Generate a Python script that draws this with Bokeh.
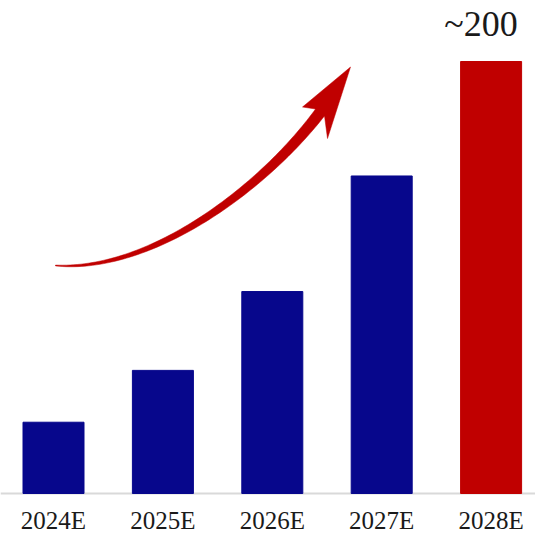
import numpy as np
from bokeh.plotting import figure
from bokeh.models import ColumnDataSource, Range1d, Span
from bokeh.core.properties import value
from bokeh.embed import file_html
from bokeh.resources import INLINE

# ---- data ----
categories = ["2024E", "2025E", "2026E", "2027E", "2028E"]
values = [33, 57, 93.5, 147, 200]
bar_colors = ["#07078C", "#07078C", "#07078C", "#07078C", "#C00000"]
top_label = "~200"

# ---- layout constants (pixel mapping) ----
W, H = 535, 534
PX_PER_X = 109.4          # pixels per category step
PX_PER_Y = 2.16           # pixels per value unit
X0_PIX = 53               # frame-left to first category center
BASE_PIX = 493            # frame-top to baseline

x_start = -X0_PIX / PX_PER_X
x_end = (W - X0_PIX) / PX_PER_X
y_end = BASE_PIX / PX_PER_Y
y_start = -(H - BASE_PIX) / PX_PER_Y

p = figure(width=W, height=H, output_backend="svg", toolbar_location=None,
           x_axis_type=None, y_axis_type=None,
           x_range=Range1d(x_start, x_end), y_range=Range1d(y_start, y_end),
           min_border=0, outline_line_color=None)
p.grid.visible = False
p.background_fill_color = "white"
p.border_fill_color = "white"

xs = list(range(len(categories)))
src = ColumnDataSource(dict(x=xs, top=values, color=bar_colors, label=categories))

# baseline
p.add_layout(Span(location=0, dimension="width", line_color="#d9d9d9",
                  line_width=2, level="underlay"))

p.vbar(x="x", top="top", bottom=0, width=61 / PX_PER_X, color="color", source=src)

# category labels
p.text(x="x", y=-27 / PX_PER_Y, text="label", source=src,
       text_align="center", text_baseline="alphabetic",
       text_font=value("Liberation Serif"), text_font_size="25px",
       text_color="#1a1a1a")

# top label for the last bar
p.text(x=[xs[-1]], y=[values[-1] + 38 / PX_PER_Y], text=[top_label],
       x_offset=-10, text_align="center", text_baseline="alphabetic",
       text_font=value("Liberation Serif"), text_font_size="36px",
       text_color="#1a1a1a")

# ---- curved arrow (built in reference pixel space, then mapped to data) ----
def to_data(px, py):
    return (px - X0_PIX) / PX_PER_X, (BASE_PIX - py) / PX_PER_Y

P0 = np.array([55.0, 265.0])
P1 = np.array([150.0, 272.0])
P2 = np.array([262.0, 188.0])
P3 = np.array([319.5, 112.0])
t = np.linspace(0, 1, 80)[:, None]
c = ((1 - t) ** 3) * P0 + 3 * ((1 - t) ** 2) * t * P1 + 3 * (1 - t) * t ** 2 * P2 + t ** 3 * P3
d = -3 * (1 - t) ** 2 * P0 + 3 * ((1 - t) ** 2 - 2 * t * (1 - t)) * P1 + 3 * (2 * t * (1 - t) - t ** 2) * P2 + 3 * t ** 2 * P3
d = d / np.linalg.norm(d, axis=1, keepdims=True)
n = np.column_stack([-d[:, 1], d[:, 0]])
w = 0.8 + 10.5 * t[:, 0] ** 0.8
A = c + n * (w / 2)[:, None]
B = c - n * (w / 2)[:, None]
head = np.array([[315.0, 108.5], [302.0, 106.5], [350.0, 66.5], [327.0, 138.0], [324.0, 115.5]])
if B[-1][1] < A[-1][1] or B[-1][0] < A[-1][0]:
    upper, lower = B, A
else:
    upper, lower = A, B
poly = np.vstack([upper, head, lower[::-1]])
ax, ay = to_data(poly[:, 0], poly[:, 1])
p.patch(x=list(ax), y=list(ay), fill_color="#C00000", line_color="#C00000", line_width=0.5)

open("out.html", "w").write(file_html(p, INLINE))
